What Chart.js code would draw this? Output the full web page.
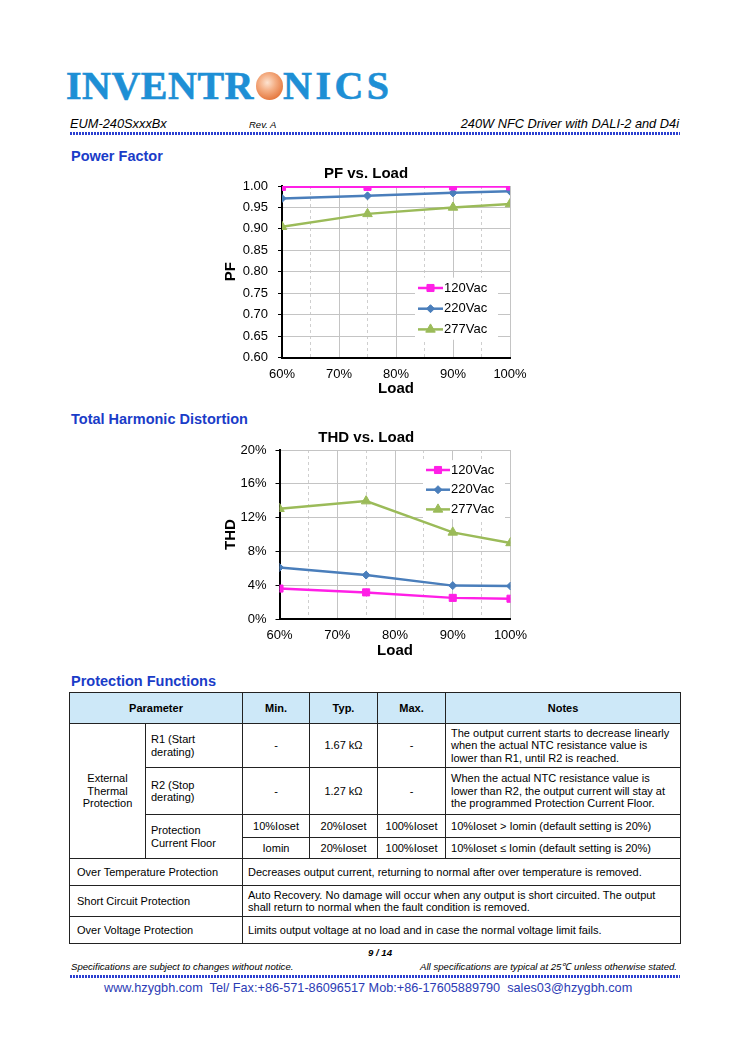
<!DOCTYPE html>
<html>
<head>
<meta charset="utf-8">
<script src="https://cdn.jsdelivr.net/npm/chart.js@4.4.1/dist/chart.umd.min.js"></script>
<style>
  body { margin: 0; background: #fff; font-family: "Liberation Sans", Arial, sans-serif; color: #000; }
  #page { position: relative; width: 750px; height: 1061px; overflow: hidden; background: #fff; }
  .abs { position: absolute; white-space: nowrap; }
  .logo { font-family: "Liberation Serif", "Times New Roman", serif; font-weight: bold; font-size: 40px; line-height: 40px;
          color: #1e8fd5; -webkit-text-stroke: 0.6px #1e8fd5; }
  .ball { position: absolute; left: 256px; top: 72px; width: 27px; height: 28px; border-radius: 50%;
          background: radial-gradient(circle at 42% 38%, #fde3d0 0%, #f4ae84 35%, #e5783f 75%, #d8652d 100%); }
  .hdr { font-style: italic; font-size: 12.8px; line-height: 15px; }
  .dots { position: absolute; height: 3px; background: repeating-linear-gradient(90deg, #2b3fd0 0 2px, transparent 2px 3px); }
  .sec { font-weight: bold; font-size: 14.5px; line-height: 17px; color: #1a3cc8; }
  canvas { position: absolute; }
  #prot { position: absolute; left: 69px; top: 692px; width: 611px; border-collapse: collapse; table-layout: fixed;
          font-size: 11px; line-height: 12.5px; }
  #prot td, #prot th { border: 1px solid #222; padding: 0 5px; }
  #prot th { background: #cde8f8; font-weight: bold; }
  #prot .c { text-align: center; }
  #prot .l { text-align: left; }
  .foot { font-style: italic; font-size: 9.6px; line-height: 12px; }
  .contact { font-size: 12.7px; line-height: 15px; color: #2b3bb5; }
</style>
</head>
<body>
<div id="page">
  <!-- 标志 -->
  <div class="abs logo" style="left:66px;top:66px;letter-spacing:0.5px;">INVENTR</div>
  <div class="ball"></div>
  <div class="abs logo" style="left:283px;top:66px;letter-spacing:3.5px;">NICS</div>

  <!-- 页眉 -->
  <div class="abs hdr" style="left:70px;top:116px;">EUM-240SxxxBx</div>
  <div class="abs hdr" style="left:249px;top:117px;font-size:9.5px;">Rev. A</div>
  <div class="abs hdr" style="right:71px;top:116px;">240W NFC Driver with DALI-2 and D4i</div>
  <div class="dots" style="left:70px;top:132px;width:610px;"></div>

  <div class="abs sec" style="left:71px;top:148px;">Power Factor</div>
  <canvas id="pfChart" width="348" height="240" style="left:222px;top:160px;"></canvas>

  <div class="abs sec" style="left:71px;top:411px;">Total Harmonic Distortion</div>
  <canvas id="thdChart" width="346" height="238" style="left:222px;top:424px;"></canvas>

  <div class="abs sec" style="left:71px;top:673px;">Protection Functions</div>
  <table id="prot">
    <colgroup>
      <col style="width:76px"><col style="width:97px"><col style="width:67px">
      <col style="width:68px"><col style="width:68px"><col style="width:235px">
    </colgroup>
    <tr style="height:31px">
      <th colspan="2">Parameter</th><th>Min.</th><th>Typ.</th><th>Max.</th><th>Notes</th>
    </tr>
    <tr style="height:44px">
      <td rowspan="4" class="c">External<br>Thermal<br>Protection</td>
      <td class="l">R1 (Start<br>derating)</td><td class="c">-</td><td class="c">1.67 kΩ</td><td class="c">-</td>
      <td class="l">The output current starts to decrease linearly<br>when the actual NTC resistance value is<br>lower than R1, until R2 is reached.</td>
    </tr>
    <tr style="height:47px">
      <td class="l">R2 (Stop<br>derating)</td><td class="c">-</td><td class="c">1.27 kΩ</td><td class="c">-</td>
      <td class="l">When the actual NTC resistance value is<br>lower than R2, the output current will stay at<br>the programmed Protection Current Floor.</td>
    </tr>
    <tr style="height:23px">
      <td rowspan="2" class="l">Protection<br>Current Floor</td>
      <td class="c">10%Ioset</td><td class="c">20%Ioset</td><td class="c">100%Ioset</td>
      <td class="l">10%Ioset &gt; Iomin (default setting is 20%)</td>
    </tr>
    <tr style="height:21px">
      <td class="c">Iomin</td><td class="c">20%Ioset</td><td class="c">100%Ioset</td>
      <td class="l">10%Ioset ≤ Iomin (default setting is 20%)</td>
    </tr>
    <tr style="height:27px">
      <td colspan="2" class="l" style="padding-left:7px">Over Temperature Protection</td>
      <td colspan="4" class="l">Decreases output current, returning to normal after over temperature is removed.</td>
    </tr>
    <tr style="height:31px">
      <td colspan="2" class="l" style="padding-left:7px">Short Circuit Protection</td>
      <td colspan="4" class="l">Auto Recovery. No damage will occur when any output is short circuited. The output<br>shall return to normal when the fault condition is removed.</td>
    </tr>
    <tr style="height:27px">
      <td colspan="2" class="l" style="padding-left:7px">Over Voltage Protection</td>
      <td colspan="4" class="l">Limits output voltage at no load and in case the normal voltage limit fails.</td>
    </tr>
  </table>

  <!-- 页脚 -->
  <div class="abs foot" style="left:368px;top:947px;font-weight:bold;">9 / 14</div>
  <div class="abs foot" style="left:71px;top:961px;">Specifications are subject to changes without notice.</div>
  <div class="abs foot" style="right:73px;top:961px;">All specifications are typical at 25℃ unless otherwise stated.</div>
  <div class="dots" style="left:70px;top:975px;width:610px;"></div>
  <div class="abs contact" style="left:104px;top:981px;">www.hzygbh.com&nbsp; Tel/ Fax:+86-571-86096517 Mob:+86-17605889790&nbsp; sales03@hzygbh.com</div>
</div>

<script>
// 数据
const loadPct = [60, 75, 90, 100];
const seriesNames = ['120Vac', '220Vac', '277Vac'];
const pf120 = [0.998, 0.998, 0.999, 0.999];
const pf220 = [0.971, 0.977, 0.984, 0.988];
const pf277 = [0.905, 0.935, 0.950, 0.958];
const thd120 = [3.6, 3.15, 2.5, 2.4];
const thd220 = [6.1, 5.2, 3.95, 3.9];
const thd277 = [13.05, 13.95, 10.25, 9.0];
const loadRange = [60, 100];
const pfRange = [0.6, 1.0];
const thdRange = [0, 20];

(() => {
    const FONT = '"Liberation Sans", Arial, sans-serif';

    // 系列样式
    const seriesStyle = [
        { color: '#ff1fe6', pointStyle: 'rect', radius: 5 },
        { color: '#4a7ebb', pointStyle: 'rectRot', radius: 4 },
        { color: '#9bbb59', pointStyle: 'triangle', radius: 5.5 }
    ];

    const makeDatasets = (lists) => lists.map((vals, i) => ({
        label: seriesNames[i],
        data: loadPct.map((x, k) => ({ x, y: vals[k] })),
        borderColor: seriesStyle[i].color,
        backgroundColor: seriesStyle[i].color,
        borderWidth: 2.5,
        pointStyle: seriesStyle[i].pointStyle,
        pointRadius: seriesStyle[i].radius,
        pointBorderWidth: 1,
        tension: 0
    }));

    // 图内图例
    const inlineLegend = {
        id: 'inlineLegend',
        afterDatasetsDraw(chart, args, opts) {
            const { ctx, chartArea } = chart;
            const x0 = chartArea.left + opts.dx;
            const y0 = chartArea.top + opts.dy;
            ctx.save();
            ctx.fillStyle = '#fff';
            ctx.fillRect(x0 - 3, y0 - opts.gap / 2, opts.len + 58, opts.gap * 3);
            chart.data.datasets.forEach((ds, i) => {
                const y = y0 + i * opts.gap;
                ctx.strokeStyle = ds.borderColor;
                ctx.lineWidth = ds.borderWidth;
                ctx.beginPath();
                ctx.moveTo(x0, y);
                ctx.lineTo(x0 + opts.len, y);
                ctx.stroke();
                ctx.lineWidth = 1;
                ctx.fillStyle = ds.backgroundColor;
                Chart.helpers.drawPoint(ctx, { pointStyle: ds.pointStyle, radius: ds.pointRadius, rotation: 0, borderWidth: 1 },
                    x0 + opts.len / 2, y);
                ctx.fillStyle = '#000';
                ctx.font = '13px ' + FONT;
                ctx.textAlign = 'left';
                ctx.textBaseline = 'middle';
                ctx.fillText(ds.label, x0 + opts.len + 1, y);
            });
            ctx.restore();
        }
    };

    const buildChart = (id, lists, cfg) => new Chart(document.getElementById(id), {
        type: 'line',
        data: { datasets: makeDatasets(lists) },
        plugins: [inlineLegend],
        options: {
            responsive: false,
            animation: false,
            devicePixelRatio: 1,
            layout: { padding: { left: 0, right: cfg.padRight, top: 0, bottom: 0 } },
            plugins: {
                legend: { display: false },
                tooltip: { enabled: false },
                title: {
                    display: true, text: cfg.title, color: '#000',
                    font: { family: FONT, size: 15, weight: 'bold', lineHeight: 1.2 },
                    padding: { top: 5, bottom: 3 }
                },
                inlineLegend: cfg.legend
            },
            scales: {
                x: {
                    type: 'linear', position: 'bottom', min: loadRange[0], max: loadRange[1],
                    afterFit: s => { s.height = cfg.xHeight; },
                    ticks: { stepSize: 10, padding: 9, color: '#000', font: { family: FONT, size: 13 },
                             callback: v => v + '%' },
                    grid: { color: '#c4c4c4', lineWidth: 1, drawTicks: false },
                    border: { display: true, color: '#000', width: 2 },
                    title: { display: true, text: 'Load', color: '#000', padding: { top: 0, bottom: 2 },
                             font: { family: FONT, size: 15, weight: 'bold', lineHeight: 1.2 } }
                },
                xMinor: {
                    type: 'linear', position: 'bottom', min: loadRange[0], max: loadRange[1],
                    afterFit: s => { s.height = 0; },
                    ticks: { stepSize: 5, display: false },
                    grid: { color: c => (c.tick && c.tick.value % 10 === 5) ? '#cfcfcf' : 'rgba(0,0,0,0)',
                            lineWidth: 1, drawTicks: false },
                    border: { display: false, dash: [3, 3] }
                },
                y: {
                    type: 'linear', min: cfg.range[0], max: cfg.range[1],
                    afterFit: s => { s.width = cfg.yWidth; },
                    ticks: { stepSize: cfg.step, padding: cfg.tickPad, color: '#000', font: { family: FONT, size: 13 },
                             callback: cfg.fmt },
                    grid: { color: '#c4c4c4', lineWidth: 1, drawTicks: true, tickLength: 4, tickColor: '#000' },
                    border: { display: true, color: '#000', width: 2 },
                    title: { display: true, text: cfg.yTitle, color: '#000', padding: { top: 0, bottom: 0 },
                             font: { family: FONT, size: 15, weight: 'bold', lineHeight: 1.2 } }
                }
            }
        }
    });

    buildChart('pfChart', [pf120, pf220, pf277], {
        title: 'PF vs. Load', yTitle: 'PF', range: pfRange, step: 0.05,
        fmt: v => v.toFixed(2), yWidth: 60, xHeight: 42.5, padRight: 60, tickPad: 10,
        legend: { dx: 136, dy: 102, gap: 20.7, len: 25 }
    });

    buildChart('thdChart', [thd120, thd220, thd277], {
        title: 'THD vs. Load', yTitle: 'THD', range: thdRange, step: 4,
        fmt: v => v + '%', yWidth: 57.5, xHeight: 43, padRight: 57.5, tickPad: 9,
        legend: { dx: 146.5, dy: 20, gap: 19.7, len: 24 }
    });
})();
</script>
</body>
</html>
